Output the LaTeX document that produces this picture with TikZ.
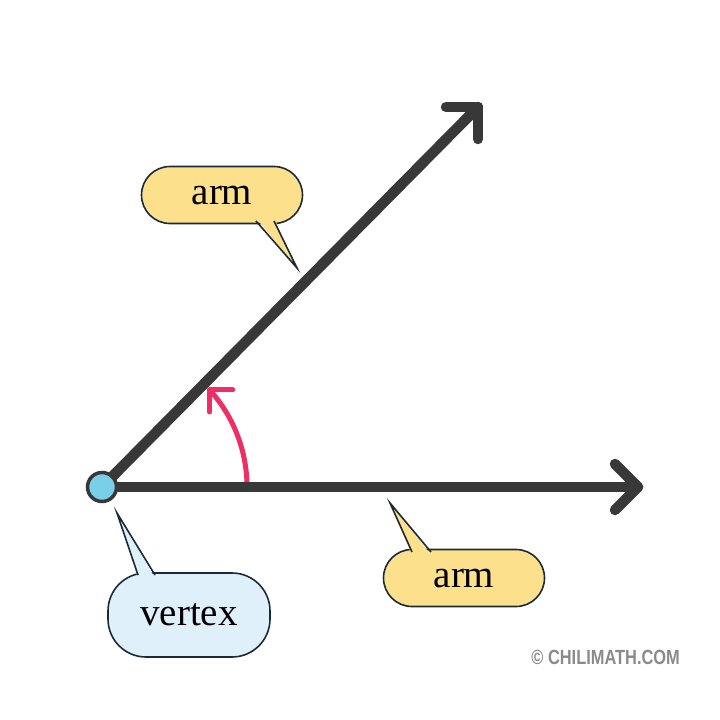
\documentclass[tikz,border=0pt]{standalone}
\usepackage{fontspec}
\setmainfont{Liberation Serif}
\newfontfamily\wmfont{Liberation Sans}
\usetikzlibrary{calc,shapes.misc}
\definecolor{armgray}{HTML}{383838}
\definecolor{pinkred}{HTML}{EE2F66}
\definecolor{vtxblue}{HTML}{78CFE7}
\definecolor{calloutline}{HTML}{1B2B36}
\definecolor{yellowfill}{HTML}{FDE08B}
\definecolor{bluefill}{HTML}{DFF0FB}
\definecolor{wmgray}{HTML}{8A8A8A}
\begin{document}
\begin{tikzpicture}[x=1pt,y=-1pt,
  armline/.style={draw=armgray,line width=10.5pt,line cap=round,line join=round},
  anglearc/.style={draw=pinkred,line width=5pt,line cap=round,line join=round},
  callout/.style={draw=calloutline,line width=1.6pt,inner sep=0pt,
    font=\fontsize{39}{47}\selectfont},
  yellowbox/.style={callout,rounded rectangle,fill=yellowfill,minimum width=161pt,minimum height=57pt},
  bluebox/.style={callout,fill=bluefill,minimum width=162pt,minimum height=84pt,rounded corners=38pt},
  tailfill/.style={fill=#1,draw=none},
  tailline/.style={draw=calloutline,line width=1.6pt,line join=miter}
]
\useasboundingbox[fill=white] (0,0) rectangle (720,720);

% key points
\coordinate (V) at (102,487);
\coordinate (H) at (638,487);
\coordinate (D) at (478,107);
\coordinate (Ha) at (615,464);
\coordinate (Hb) at (615,510);
\coordinate (Da) at (446,107);
\coordinate (Db) at (478,139);

% angle arc
\draw[anglearc] ($(V)+(0:145)$) arc[start angle=0,end angle=-42,radius=145] coordinate (A);
\coordinate (Aa) at ($(A)+(23,0)$);
\coordinate (Ab) at ($(A)+(0,22)$);
\draw[anglearc] (Aa) -- (A) -- (Ab);

% arms
\draw[armline] (V) -- (H);
\draw[armline] (Ha) -- (H) -- (Hb);
\draw[armline] (V) -- (D);
\draw[armline] (Da) -- (D) -- (Db);

% vertex
\node[circle,draw=armgray,fill=vtxblue,line width=3.5pt,minimum size=29pt,inner sep=0pt] (vtx) at (V) {};

% callout: top arm
\node[yellowbox] (arm1) at (222,195) {arm};
\coordinate (t1a) at (256,221);
\coordinate (t1b) at (274,221);
\coordinate (t1) at (297,268);
\fill[tailfill=yellowfill] ($(t1a)+(0,-3)$) -- (t1) -- ($(t1b)+(0,-3)$) -- cycle;
\draw[tailline] (t1a) -- (t1) -- (t1b);

% callout: bottom arm
\node[yellowbox] (arm2) at (464,578) {arm};
\coordinate (t2a) at (412,552);
\coordinate (t2b) at (431,552);
\coordinate (t2) at (390,503);
\fill[tailfill=yellowfill] ($(t2a)+(0,3)$) -- (t2) -- ($(t2b)+(0,3)$) -- cycle;
\draw[tailline] (t2a) -- (t2) -- (t2b);

% callout: vertex
\node[bluebox] (vlabel) at (189,615) {vertex};
\coordinate (t3a) at (138,575);
\coordinate (t3b) at (155,575);
\coordinate (t3) at (117,513);
\fill[tailfill=bluefill] ($(t3a)+(0,3)$) -- (t3) -- ($(t3b)+(0,3)$) -- cycle;
\draw[tailline] (t3a) -- (t3) -- (t3b);

% watermark
\node[anchor=east,text=wmgray,inner sep=0pt,xscale=0.8,
  font=\wmfont\bfseries\fontsize{20.5}{24}\selectfont] (wm) at (680,657) {© CHILIMATH.COM};
\end{tikzpicture}
\end{document}
